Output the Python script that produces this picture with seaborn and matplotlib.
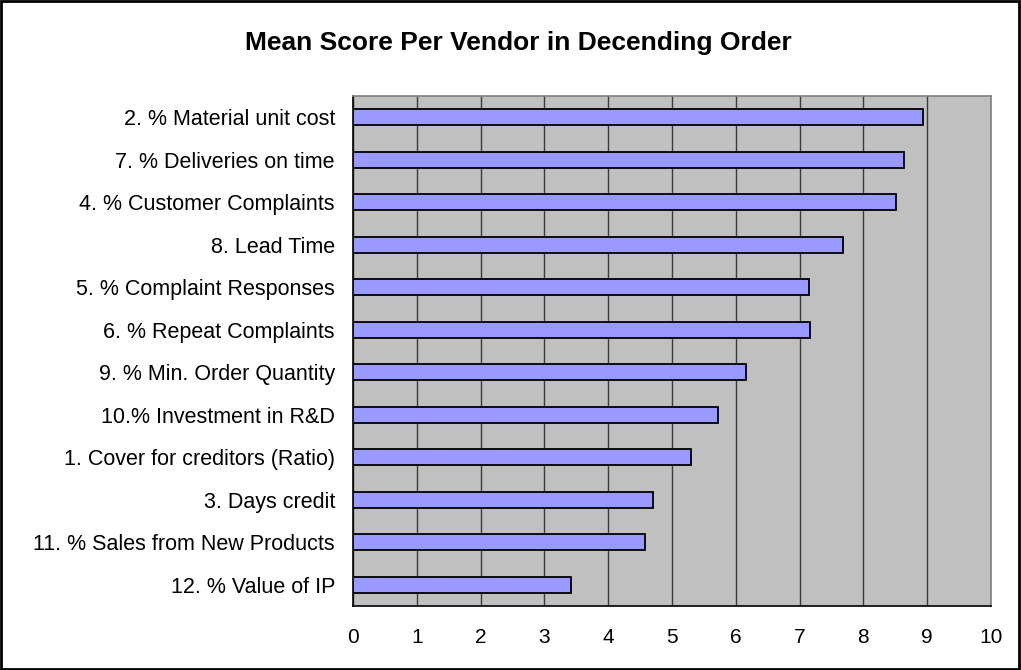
import matplotlib
matplotlib.use("Agg")
import matplotlib.pyplot as plt
import seaborn as sns
import pandas as pd
import numpy as np
from matplotlib.patches import Rectangle

categories = [
    "2. % Material unit cost",
    "7. % Deliveries on time",
    "4. % Customer Complaints",
    "8. Lead Time",
    "5. % Complaint Responses",
    "6. % Repeat Complaints",
    "9. % Min. Order Quantity",
    "10.% Investment in R&D",
    "1. Cover for creditors (Ratio)",
    "3. Days credit",
    "11. % Sales from New Products",
    "12. % Value of IP",
]
scores = [8.93, 8.64, 8.51, 7.68, 7.15, 7.16, 6.16, 5.72, 5.30, 4.70, 4.57, 3.42]
x_ticks = [0, 1, 2, 3, 4, 5, 6, 7, 8, 9, 10]
title = "Mean Score Per Vendor in Decending Order"

sns.set_theme(style="white")
plt.rcParams["font.family"] = ["Liberation Sans", "DejaVu Sans"]

df = pd.DataFrame({"category": categories, "score": scores})

fig = plt.figure(figsize=(10.21, 6.70), dpi=100)
ax = fig.add_axes([353 / 1021, 1 - 606 / 670, (991 - 353) / 1021, (606 - 96) / 670])
ax.set_facecolor("#C0C0C0")

sns.barplot(data=df, x="score", y="category", orient="h", order=categories,
            color="#9999FF", saturation=1, width=0.38,
            edgecolor="black", linewidth=1.3, ax=ax, zorder=3)

ax.set_xlim(0, 10)
ax.set_ylim(len(categories) - 0.5, -0.5)
ax.set_xticks(x_ticks)
ax.set_xticklabels([str(t) for t in x_ticks], fontsize=15)
ax.set_xlabel("")
ax.set_ylabel("")
ax.xaxis.grid(True, color="#3a3a3a", linewidth=1.0, zorder=1)
ax.set_axisbelow(True)

ax.tick_params(axis="y", which="major", length=0, pad=13, labelsize=15.5)
ax.set_yticks(np.arange(-0.5, len(categories), 1.0), minor=True)
ax.tick_params(axis="y", which="minor", length=7, width=1, color="black", direction="out")
ax.tick_params(axis="x", which="major", length=7, width=1, color="black", direction="out", pad=9)
ax.tick_params(colors="black", labelcolor="black")

for side in ["left", "bottom"]:
    ax.spines[side].set_color("black")
    ax.spines[side].set_linewidth(1.2)
for side in ["top", "right"]:
    ax.spines[side].set_color("#808080")
    ax.spines[side].set_linewidth(1.2)

fig.text(0.508, 1 - 43 / 670, title, ha="center", va="center",
         fontsize=19, fontweight="bold", color="black")

fig.patches.append(Rectangle((0.001, 0.001), 0.997, 0.997, transform=fig.transFigure,
                             fill=False, edgecolor="black", linewidth=2))

fig.savefig("out.png", dpi=100, facecolor="white")
